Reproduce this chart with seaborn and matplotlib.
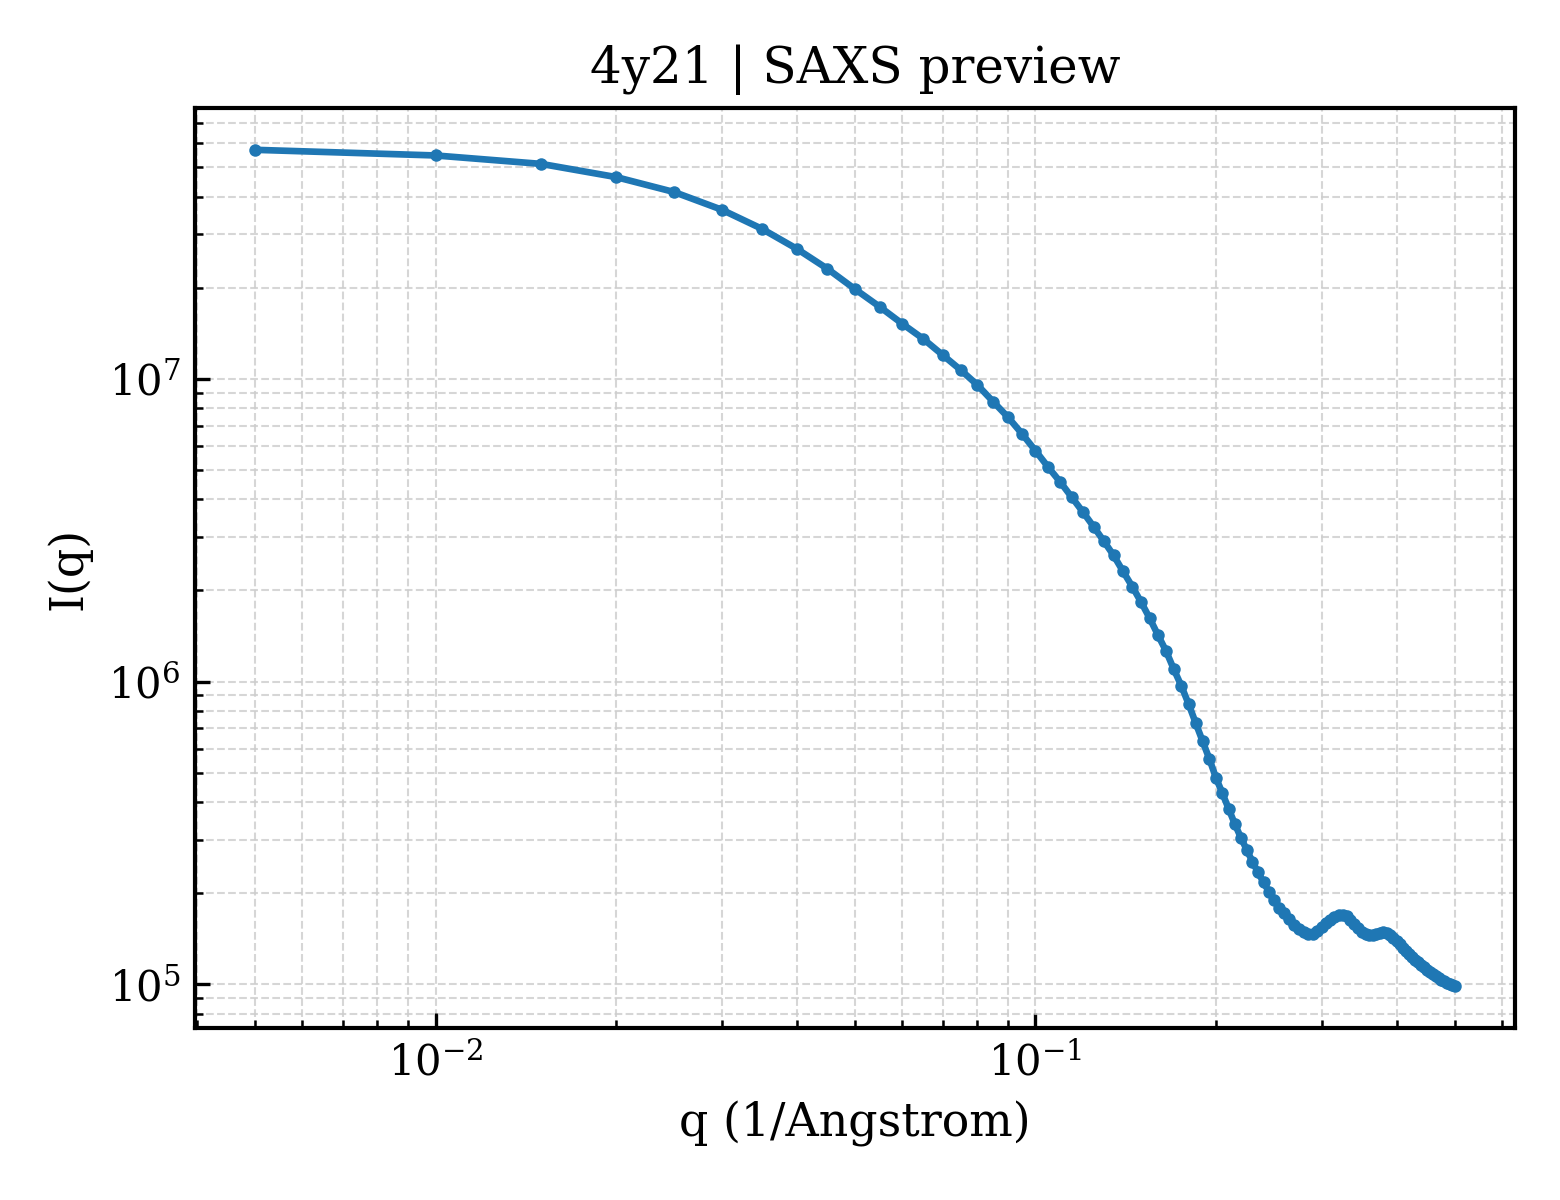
import numpy as np
import pandas as pd
import matplotlib
matplotlib.use("Agg")
import matplotlib.pyplot as plt
import seaborn as sns

# q en pasos de 0.005 hasta 0.5 (1/Angstrom)
q_values = np.round(np.arange(1, 101) * 0.005, 3)

# intensidades
intensity = [
    5.71e7, 5.47e7, 5.13e7, 4.64e7, 4.14e7, 3.62e7, 3.13e7, 2.69e7, 2.31e7, 1.98e7,
    1.73e7, 1.52e7, 1.356e7, 1.20e7, 1.071e7, 9.55e6, 8.41e6, 7.47e6, 6.58e6, 5.79e6,
    5.11e6, 4.56e6, 4.06e6, 3.63e6, 3.25e6, 2.91e6, 2.61e6, 2.31e6, 2.06e6, 1.83e6,
    1.62e6, 1.425e6, 1.264e6, 1.10e6, 9.69e5, 8.43e5, 7.29e5, 6.34e5, 5.54e5, 4.80e5,
    4.27e5, 3.79e5, 3.38e5, 3.05e5, 2.78e5, 2.54e5, 2.34e5, 2.17e5, 2.02e5, 1.90e5,
    1.78e5, 1.72e5, 1.64e5, 1.567e5, 1.526e5, 1.491e5, 1.468e5, 1.468e5, 1.497e5, 1.543e5,
    1.591e5, 1.634e5, 1.672e5, 1.691e5, 1.697e5, 1.678e5, 1.634e5, 1.579e5, 1.532e5, 1.491e5,
    1.463e5, 1.452e5, 1.452e5, 1.463e5, 1.480e5, 1.486e5, 1.480e5, 1.457e5, 1.425e5, 1.392e5,
    1.356e5, 1.320e5, 1.291e5, 1.261e5, 1.233e5, 1.205e5, 1.182e5, 1.160e5, 1.138e5, 1.117e5,
    1.096e5, 1.079e5, 1.063e5, 1.047e5, 1.035e5, 1.023e5, 1.012e5, 1.000e5, 0.992e5, 0.985e5,
]

titulo = "4y21 | SAXS preview"
etiqueta_x = "q (1/Angstrom)"
etiqueta_y = "I(q)"

df = pd.DataFrame({"q": q_values, "I": intensity})

sns.set_style("white")
plt.rcParams["font.family"] = ["DejaVu Serif"]
plt.rcParams["text.color"] = "black"
plt.rcParams["axes.labelcolor"] = "black"

fig, ax = plt.subplots(figsize=(5.2, 4.0), dpi=300)
fig.subplots_adjust(left=0.125, right=0.971, bottom=0.1433, top=0.91)

sns.lineplot(data=df, x="q", y="I", ax=ax, color="#1f77b4", linewidth=1.6,
             marker="o", markersize=3.0, markeredgewidth=0)

ax.set_xscale("log")
ax.set_yscale("log")

ax.grid(True, which="both", linestyle="--", linewidth=0.5, color="#cccccc", alpha=0.8)
ax.tick_params(which="both", direction="in", bottom=True, left=True,
               top=False, right=False, colors="black")
ax.tick_params(which="major", length=3.5, width=0.8, labelsize=10)
ax.tick_params(which="minor", length=2, width=0.6)
for s in ax.spines.values():
    s.set_color("black")
    s.set_linewidth(1.0)

ax.set_title(titulo, fontsize=12, color="black")
ax.set_xlabel(etiqueta_x, fontsize=11, color="black")
ax.set_ylabel(etiqueta_y, fontsize=11, color="black")

plt.savefig("out.png", dpi=300)
